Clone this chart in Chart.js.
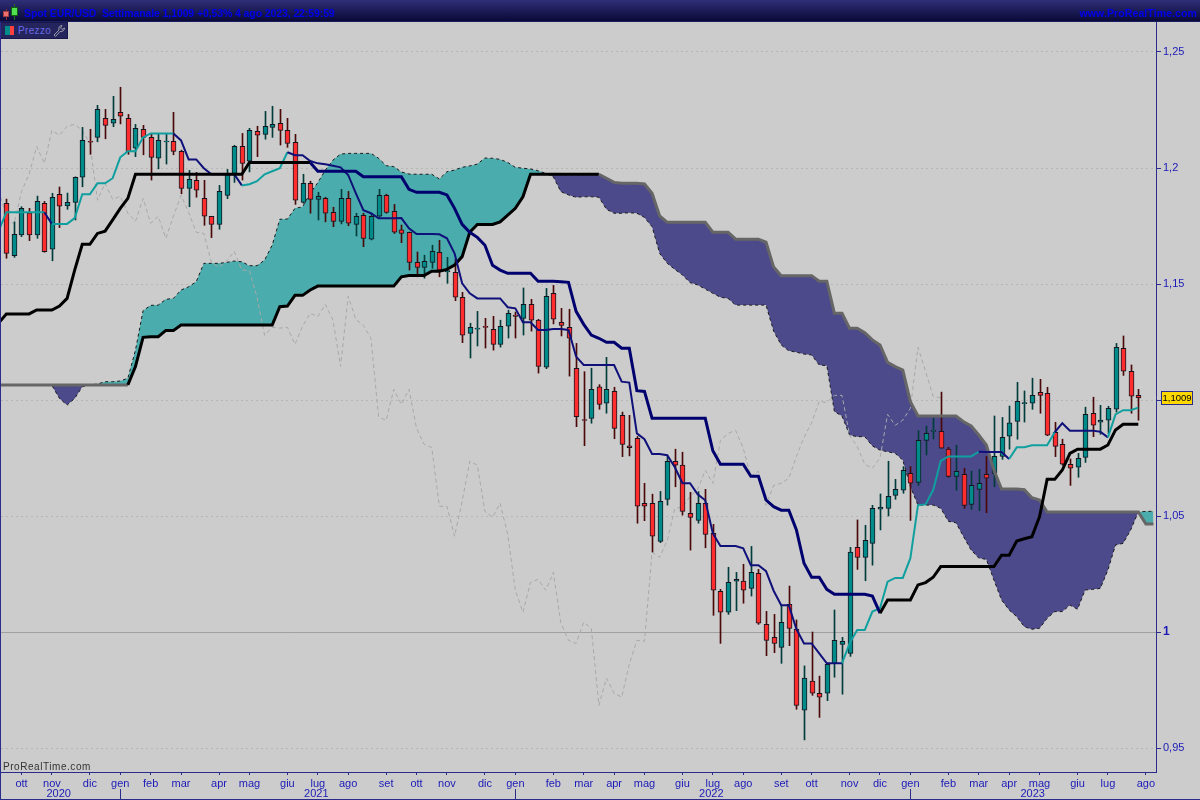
<!DOCTYPE html>
<html lang="it">
<head>
<meta charset="utf-8">
<title>Spot EUR/USD Settimanale</title>
<script src="https://cdn.jsdelivr.net/npm/chart.js@4"></script>
<style>
  html, body { margin: 0; padding: 0; background: #cccccc; overflow: hidden; }
  #wrap { position: relative; width: 1200px; height: 800px; font-family: "Liberation Sans", Arial, sans-serif; }
  canvas { position: absolute; left: 0; top: 0; }
  #header { position: absolute; left: 0; top: 0; width: 1200px; height: 21px; border-bottom: 1px solid #1c1c60;
    background: linear-gradient(#2f2f78, #090938); color: #0000ee; font-weight: bold; font-size: 10.5px; line-height: 26px; }
  #title { position: absolute; left: 24px; top: 0; white-space: pre; letter-spacing: -0.1px; }
  #site { position: absolute; right: 3px; top: 0; letter-spacing: 0.1px; }
  #logo { position: absolute; left: 0; top: 0; }
  #tag { position: absolute; left: 0; top: 22px; width: 67px; height: 15px; background: #25255e; border: 1px solid #17174e; border-left: 0;
    color: #6868e8; font-size: 10px; line-height: 16px; }
  #tag span { position: absolute; left: 18px; letter-spacing: 0.35px; }
  #tag i { position: absolute; top: 3px; height: 9px; }
  #tag svg { position: absolute; left: 52px; top: 1px; }
  #mark { position: absolute; left: 3px; top: 761px; font-size: 10px; letter-spacing: 0.55px; color: #333333; }
  #frameL { position: absolute; left: 0; top: 22px; width: 1px; height: 778px; background: #2b2b8c; }
  #frameB { position: absolute; left: 0; top: 799px; width: 1200px; height: 1px; background: #2b2b8c; }
</style>
</head>
<body>
<div id="wrap">
  <canvas id="chart" width="1200" height="800"></canvas>
  <div id="header">
    <svg id="logo" width="20" height="21" viewBox="0 0 20 21">
      <rect x="6" y="9" width="1" height="11" fill="#8a3030"/><rect x="3.5" y="11.5" width="5" height="5" fill="#f07070" stroke="#a04040"/>
      <rect x="14" y="4" width="1" height="16" fill="#207020"/><rect x="11.5" y="7.5" width="6" height="8" fill="#50e050" stroke="#106010"/>
    </svg>
    <div id="title">Spot EUR/USD  Settimanale 1,1009 +0,53% 4 ago 2023, 22:59:59</div>
    <div id="site">www.ProRealTime.com</div>
  </div>
  <div id="tag">
    <i style="left:5px;width:5px;background:#008b8b"></i><i style="left:10px;width:4px;background:#ff4040"></i>
    <span>Prezzo</span>
    <svg width="14" height="13" viewBox="0 0 14 13"><path d="M2 11 L7 6 Q6 2 10 1.5 L8.5 4 L10 5.5 L12.5 4 Q12 8 8 7.5 L3.5 12.5 Z" fill="none" stroke="#9a9aa8" stroke-width="1"/></svg>
  </div>
  <div id="mark">ProRealTime.com</div>
  <div id="frameL"></div>
  <div id="frameB"></div>
</div>
<script>
// --- Data ---
// weekly candles, week 0 to week 149
const opens = [
  1.1848,1.1622,1.1712,1.1807,1.1712,1.1848,1.1650,1.1887,1.1837,1.1852,
  1.1960,1.2115,1.2132,1.2214,1.2193,1.2240,1.2214,1.2085,1.2167,1.2132,
  1.2042,1.2112,1.2115,1.2072,1.1912,1.1947,1.1869,1.1792,1.1757,1.1882,
  1.1977,1.2093,1.2029,1.2158,1.2145,1.2175,1.2193,1.2162,1.2111,1.1852,
  1.1934,1.1865,1.1869,1.1809,1.1770,1.1869,1.1757,1.1796,1.1693,1.1792,
  1.1882,1.1813,1.1733,1.1723,1.1593,1.1572,1.1593,1.1637,1.1552,1.1550,
  1.1443,1.1287,1.1305,1.1318,1.1305,1.1240,1.1318,1.1366,1.1352,1.1412,
  1.1344,1.1141,1.1460,1.1335,1.1313,1.1137,1.0916,1.0921,1.1057,1.0986,
  1.1037,1.0934,1.0802,1.0835,1.0555,1.0555,1.0391,1.0572,1.0736,1.0719,
  1.0512,1.0481,1.0555,1.0425,1.0175,1.0085,1.0219,1.0219,1.0188,1.0253,
  1.0033,0.9977,0.9934,1.0119,1.0013,0.9663,0.9788,0.9736,0.9736,0.9865,
  0.9947,0.9908,1.0365,1.0322,1.0382,1.0529,1.0533,1.0589,1.0611,1.0684,
  1.0645,1.0826,1.0865,1.0865,1.0788,1.0671,1.0680,1.0550,1.0615,1.0680,
  1.0684,1.0757,1.0844,1.0908,1.0984,1.0986,1.1033,1.1029,1.0861,1.0809,
  1.0723,1.0710,1.0753,1.0943,1.0904,1.0913,1.0960,1.1223,1.1124,1.1020
];
const highs = [
  1.1866,1.1768,1.1833,1.1826,1.1879,1.1856,1.1891,1.1918,1.1892,1.1962,
  1.2175,1.2167,1.2270,1.2253,1.2309,1.2348,1.2231,1.2188,1.2184,1.2149,
  1.2149,1.2149,1.2240,1.2077,1.1990,1.1981,1.1947,1.1792,1.1925,1.1994,
  1.2098,1.2149,1.2171,1.2180,1.2244,1.2266,1.2253,1.2214,1.2145,1.1973,
  1.1943,1.1895,1.1874,1.1831,1.1908,1.1899,1.1805,1.1805,1.1805,1.1908,
  1.1887,1.1843,1.1754,1.1724,1.1638,1.1624,1.1667,1.1688,1.1615,1.1606,
  1.1464,1.1331,1.1382,1.1352,1.1361,1.1344,1.1387,1.1379,1.1483,1.1434,
  1.1348,1.1481,1.1494,1.1395,1.1391,1.1244,1.1122,1.1137,1.1066,1.1184,
  1.1055,1.0948,1.0934,1.0843,1.0641,1.0594,1.0606,1.0759,1.0788,1.0775,
  1.0602,1.0605,1.0615,1.0464,1.0184,1.0279,1.0257,1.0292,1.0369,1.0270,
  1.0089,1.0076,1.0116,1.0198,1.0052,0.9854,1.0000,0.9810,0.9865,1.0095,
  0.9977,1.0365,1.0483,1.0460,1.0546,1.0595,1.0736,1.0658,1.0713,1.0713,
  1.0868,1.0888,1.0921,1.1034,1.0796,1.0805,1.0706,1.0694,1.0701,1.0757,
  1.0931,1.0925,1.0974,1.1076,1.1039,1.1094,1.1089,1.1055,1.0904,1.0831,
  1.0746,1.0770,1.0969,1.1012,1.0977,1.0973,1.1244,1.1276,1.1151,1.1046
];
const lows = [
  1.1611,1.1615,1.1704,1.1687,1.1697,1.1637,1.1600,1.1743,1.1822,1.1776,
  1.1919,1.2059,1.2113,1.2126,1.2178,1.2190,1.2059,1.2049,1.2057,1.1948,
  1.1996,1.2017,1.2057,1.1889,1.1833,1.1874,1.1753,1.1700,1.1736,1.1868,
  1.1938,1.1948,1.1983,1.2049,1.2124,1.2132,1.2099,1.2089,1.1843,1.1848,
  1.1805,1.1776,1.1768,1.1747,1.1759,1.1751,1.1707,1.1661,1.1690,1.1787,
  1.1805,1.1718,1.1678,1.1560,1.1531,1.1525,1.1568,1.1531,1.1503,1.1428,
  1.1247,1.1181,1.1233,1.1224,1.1215,1.1228,1.1267,1.1267,1.1280,1.1297,
  1.1116,1.1135,1.1328,1.1276,1.1103,1.0885,1.0803,1.0900,1.0960,1.0943,
  1.0833,1.0756,1.0759,1.0469,1.0480,1.0345,1.0385,1.0547,1.0626,1.0504,
  1.0353,1.0469,1.0363,1.0072,0.9951,1.0076,1.0092,1.0124,1.0155,1.0033,
  0.9898,0.9911,0.9865,0.9941,0.9667,0.9535,0.9727,0.9632,0.9704,0.9805,
  0.9732,0.9895,1.0270,1.0221,1.0288,1.0440,1.0500,1.0572,1.0598,1.0481,
  1.0632,1.0763,1.0832,1.0792,1.0667,1.0611,1.0533,1.0529,1.0523,1.0514,
  1.0626,1.0744,1.0788,1.0831,1.0905,1.0960,1.0943,1.0846,1.0756,1.0719,
  1.0632,1.0667,1.0731,1.0842,1.0852,1.0856,1.0948,1.1106,1.0943,1.0913
];
const closes = [
  1.1632,1.1714,1.1826,1.1712,1.1856,1.1639,1.1874,1.1835,1.1852,1.1960,
  1.2119,1.2111,1.2253,1.2184,1.2210,1.2223,1.2070,1.2171,1.2132,1.2046,
  1.2119,1.2116,1.2072,1.1912,1.1951,1.1904,1.1792,1.1757,1.1899,1.1973,
  1.2093,1.2020,1.2162,1.2141,1.2180,1.2188,1.2162,1.2106,1.1861,1.1934,
  1.1865,1.1878,1.1805,1.1770,1.1869,1.1762,1.1792,1.1697,1.1792,1.1882,
  1.1809,1.1723,1.1718,1.1593,1.1572,1.1598,1.1641,1.1560,1.1558,1.1443,
  1.1279,1.1313,1.1310,1.1313,1.1240,1.1318,1.1374,1.1360,1.1412,1.1344,
  1.1145,1.1447,1.1348,1.1322,1.1266,1.0928,1.0912,1.1046,1.0981,1.1046,
  1.0878,1.0809,1.0795,1.0542,1.0542,1.0413,1.0563,1.0736,1.0719,1.0520,
  1.0494,1.0555,1.0421,1.0180,1.0085,1.0214,1.0227,1.0180,1.0257,1.0038,
  0.9964,0.9951,1.0042,1.0016,0.9684,0.9801,0.9736,0.9719,0.9861,0.9964,
  0.9960,1.0344,1.0322,1.0395,1.0533,1.0538,1.0585,1.0615,1.0697,1.0641,
  1.0826,1.0856,1.0869,1.0792,1.0671,1.0693,1.0546,1.0632,1.0641,1.0663,
  1.0757,1.0839,1.0902,1.0994,1.0989,1.1020,1.1020,1.0848,1.0800,1.0723,
  1.0706,1.0749,1.0938,1.0891,1.0913,1.0964,1.1227,1.1124,1.1016,1.1009
];

// ichimoku lines, first entry is week -1 (runs off the left edge)
const kijun = [
  1.1332,1.1371,1.1371,1.1371,1.1371,1.1388,1.1388,1.1388,1.1405,1.1438,
  1.1560,1.1671,1.1671,1.1718,1.1728,1.1776,1.1826,1.1869,1.1973,1.1973,
  1.1973,1.1973,1.1973,1.1973,1.1973,1.1973,1.1973,1.1973,1.1973,1.1973,
  1.1973,1.1973,1.1973,1.2024,1.2024,1.2024,1.2024,1.2024,1.2024,1.2024,
  1.2024,1.2024,1.1986,1.1986,1.1986,1.1986,1.1986,1.1986,1.1962,1.1962,
  1.1962,1.1962,1.1962,1.1962,1.1908,1.1895,1.1895,1.1895,1.1895,1.1884,
  1.1826,1.1757,1.1723,1.1701,1.1667,1.1581,1.1560,1.1546,1.1546,1.1546,
  1.1546,1.1512,1.1512,1.1512,1.1510,1.1507,1.1382,1.1326,1.1280,1.1266,
  1.1249,1.1249,1.1223,1.1223,1.1040,1.1037,1.0921,1.0921,1.0921,1.0921,
  1.0921,1.0921,1.0921,1.0921,1.0781,1.0723,1.0723,1.0723,1.0723,1.0671,
  1.0671,1.0569,1.0540,1.0525,1.0525,1.0440,1.0296,1.0236,1.0236,1.0184,
  1.0163,1.0163,1.0163,1.0163,1.0163,1.0155,1.0081,1.0138,1.0138,1.0138,
  1.0138,1.0203,1.0213,1.0236,1.0282,1.0282,1.0282,1.0282,1.0282,1.0282,
  1.0282,1.0282,1.0331,1.0331,1.0392,1.0402,1.0411,1.0497,1.0658,1.0658,
  1.0698,1.0770,1.0788,1.0788,1.0788,1.0788,1.0806,1.0871,1.0895,1.0895,1.0895
];
const tenkan = [
  1.1730,1.1809,1.1809,1.1809,1.1809,1.1809,1.1809,1.1759,1.1759,1.1759,
  1.1784,1.1887,1.1887,1.1934,1.1934,1.1956,1.2046,1.2072,1.2072,1.2132,
  1.2149,1.2149,1.2149,1.2149,1.2119,1.2037,1.2037,1.1999,1.1973,1.1973,
  1.1973,1.1973,1.1925,1.1930,1.1943,1.1973,1.1986,1.1999,1.2068,1.2055,
  1.2055,1.2030,1.2020,1.2016,1.2010,1.2003,1.1970,1.1892,1.1818,1.1805,
  1.1783,1.1783,1.1783,1.1784,1.1740,1.1715,1.1715,1.1715,1.1714,1.1697,
  1.1632,1.1503,1.1460,1.1438,1.1438,1.1438,1.1438,1.1400,1.1395,1.1335,
  1.1335,1.1302,1.1302,1.1306,1.1306,1.1302,1.1187,1.1151,1.1151,1.1151,
  1.1151,1.1151,1.1079,1.1075,1.0856,1.0831,1.0767,1.0767,1.0762,1.0710,
  1.0641,1.0641,1.0594,1.0568,1.0425,1.0371,1.0371,1.0371,1.0361,1.0288,
  1.0288,1.0262,1.0178,1.0115,1.0115,1.0012,0.9951,0.9951,0.9908,0.9865,
  0.9865,0.9865,0.9951,1.0009,1.0009,1.0088,1.0102,1.0217,1.0233,1.0233,
  1.0318,1.0547,1.0550,1.0612,1.0738,1.0757,1.0757,1.0757,1.0757,1.0777,
  1.0776,1.0776,1.0776,1.0746,1.0796,1.0796,1.0805,1.0805,1.0805,1.0861,
  1.0900,1.0868,1.0868,1.0868,1.0868,1.0863,1.0839,1.0938,1.0956,1.0956,1.0967
];
// chikou: plotted back by 26 weeks, first entry is week -1
const chikou = [
  1.1904,1.1792,1.1757,1.1899,1.1973,1.2093,1.2020,1.2162,1.2141,1.2180,
  1.2188,1.2162,1.2106,1.1861,1.1934,1.1865,1.1878,1.1805,1.1770,1.1869,
  1.1762,1.1792,1.1697,1.1792,1.1882,1.1809,1.1723,1.1718,1.1593,1.1572,
  1.1598,1.1641,1.1560,1.1558,1.1443,1.1279,1.1313,1.1310,1.1313,1.1240,
  1.1318,1.1374,1.1360,1.1412,1.1344,1.1145,1.1447,1.1348,1.1322,1.1266,
  1.0928,1.0912,1.1046,1.0981,1.1046,1.0878,1.0809,1.0795,1.0542,1.0542,
  1.0413,1.0563,1.0736,1.0719,1.0520,1.0494,1.0555,1.0421,1.0180,1.0085,
  1.0214,1.0227,1.0180,1.0257,1.0038,0.9964,0.9951,1.0042,1.0016,0.9684,
  0.9801,0.9736,0.9719,0.9861,0.9964,0.9960,1.0344,1.0322,1.0395,1.0533,
  1.0538,1.0585,1.0615,1.0697,1.0641,1.0826,1.0856,1.0869,1.0792,1.0671,
  1.0693,1.0546,1.0632,1.0641,1.0663,1.0757,1.0839,1.0902,1.0994,1.0989,
  1.1020,1.1020,1.0848,1.0800,1.0723,1.0706,1.0749,1.0938,1.0891,1.0913,
  1.0964,1.1227,1.1124,1.1016,1.1009
];
// cloud edges, week -1 to week 151
const senkouA = [
  1.1065,1.1065,1.1065,1.1065,1.1065,1.1065,1.1065,1.1063,1.1007,1.0978,
  1.1007,1.1057,1.1065,1.1069,1.1079,1.1079,1.1082,1.1094,1.1215,1.1385,
  1.1408,1.1409,1.1434,1.1438,1.1474,1.1488,1.1510,1.1589,1.1589,1.1589,
  1.1593,1.1599,1.1596,1.1579,1.1579,1.1603,1.1668,1.1779,1.1780,1.1826,
  1.1833,1.1891,1.1937,1.1991,1.2034,1.2060,1.2063,1.2063,1.2063,1.2063,
  1.2042,1.2010,1.2006,1.1983,1.1974,1.1973,1.1973,1.1973,1.1953,1.1984,
  1.1991,1.2003,1.2009,1.2017,1.2043,1.2042,1.2037,1.2024,1.2003,1.1999,
  1.1996,1.1988,1.1977,1.1962,1.1898,1.1884,1.1874,1.1876,1.1876,1.1874,
  1.1822,1.1805,1.1805,1.1807,1.1805,1.1787,1.1747,1.1632,1.1589,1.1563,
  1.1539,1.1506,1.1496,1.1478,1.1460,1.1443,1.1438,1.1409,1.1409,1.1409,
  1.1409,1.1409,1.1297,1.1237,1.1212,1.1206,1.1198,1.1194,1.1151,1.1148,
  1.0950,1.0931,1.0849,1.0842,1.0842,1.0802,1.0784,1.0777,1.0770,1.0741,
  1.0626,1.0547,1.0547,1.0547,1.0533,1.0477,1.0471,1.0411,1.0353,1.0319,
  1.0313,1.0224,1.0138,1.0095,1.0066,1.0023,1.0012,1.0016,1.0059,1.0088,
  1.0088,1.0116,1.0098,1.0181,1.0184,1.0188,1.0267,1.0375,1.0382,1.0440,
  1.0517,1.0520,1.0520
];
const senkouB = [
  1.1065,1.1065,1.1065,1.1065,1.1065,1.1065,1.1065,1.1065,1.1065,1.1065,
  1.1065,1.1065,1.1065,1.1065,1.1065,1.1065,1.1065,1.1065,1.1144,1.1270,
  1.1273,1.1273,1.1300,1.1300,1.1323,1.1323,1.1323,1.1323,1.1323,1.1323,
  1.1323,1.1323,1.1323,1.1323,1.1323,1.1323,1.1323,1.1402,1.1405,1.1451,
  1.1451,1.1474,1.1491,1.1491,1.1491,1.1491,1.1491,1.1491,1.1491,1.1491,
  1.1491,1.1491,1.1491,1.1531,1.1537,1.1537,1.1537,1.1555,1.1555,1.1563,
  1.1582,1.1618,1.1723,1.1757,1.1757,1.1757,1.1768,1.1797,1.1826,1.1876,
  1.1973,1.1973,1.1973,1.1973,1.1973,1.1973,1.1973,1.1973,1.1973,1.1973,
  1.1956,1.1938,1.1934,1.1934,1.1934,1.1931,1.1891,1.1793,1.1766,1.1766,
  1.1766,1.1766,1.1766,1.1766,1.1723,1.1723,1.1723,1.1693,1.1693,1.1693,
  1.1693,1.1680,1.1573,1.1536,1.1536,1.1536,1.1536,1.1536,1.1512,1.1512,
  1.1374,1.1374,1.1309,1.1309,1.1290,1.1259,1.1237,1.1162,1.1144,1.1129,
  1.0993,1.0931,1.0931,1.0931,1.0931,1.0931,1.0931,1.0906,1.0888,1.0849,
  1.0806,1.0698,1.0616,1.0616,1.0616,1.0613,1.0579,1.0569,1.0517,1.0517,
  1.0517,1.0517,1.0517,1.0517,1.0517,1.0517,1.0517,1.0517,1.0517,1.0517,
  1.0517,1.0466,1.0466
];

// axis ticks: week number of each month start and of each year label
const monthWeeks = [2,6,11,15,19,23,28,32,37,41,45,50,54,58,63,67,72,76,80,84,89,93,97,102,106,111,115,119,124,128,132,136,141,145,150];
const monthLabels = ['ott','nov','dic','gen','feb','mar','apr','mag','giu','lug','ago','set','ott','nov','dic','gen','feb','mar','apr','mag','giu','lug','ago','set','ott','nov','dic','gen','feb','mar','apr','mag','giu','lug','ago'];
const yearWeeks = [6.9,40.8,92.8,135.1];
const yearLabels = ['2020','2021','2022','2023'];
const yearStarts = [15,67,119];
const priceTicks = [0.95,1,1.05,1.1,1.15,1.2,1.25];
const lastPrice = 1.1009;

// --- Colours ---
const TEAL = '#008b8b';
const RED = '#ff2d2d';
const NAVY = '#00006e';
const THIN_NAVY = '#10107a';
const CYAN = '#0f9f9f';
const AXIS = '#2b2b8c';
const TICK_TEXT = '#1a1ab8';
const FONT = '"Liberation Sans", Arial, sans-serif';

// --- Helpers ---
function onWeeks(values) {
  return values.map((v, i) => ({ x: i - 1, y: v }));
}
function inRanges(x, ranges) {
  return ranges.some(r => x >= r[0] && x < r[1]);
}
function isUp(i) {
  return closes[i] >= opens[i];
}

// navy parts of the tenkan line
const tenkanNavy = [[5,6],[22,31],[37,110],[128,132],[138,145]];

// --- Plugin: snap candles to whole pixels, draw year marks and the price box ---
const chartExtras = {
  id: 'chartExtras',
  afterDatasetsUpdate(chart) {
    chart.data.datasets.forEach((ds, idx) => {
      if (ds.type !== 'bar') return;
      chart.getDatasetMeta(idx).data.forEach(el => { el.x = Math.round(el.x) + 0.5; });
    });
  },
  afterDraw(chart) {
    const { ctx, scales } = chart;
    ctx.save();
    ctx.strokeStyle = AXIS;
    ctx.lineWidth = 1;
    yearStarts.forEach(w => {
      const x = Math.round(scales.x.getPixelForValue(w)) + 0.5;
      ctx.beginPath();
      ctx.moveTo(x, 789);
      ctx.lineTo(x, 799);
      ctx.stroke();
    });
    const y = Math.round(scales.y.getPixelForValue(lastPrice));
    ctx.fillStyle = '#ffd800';
    ctx.fillRect(1161.5, y - 6.5, 31, 13);
    ctx.strokeRect(1161.5, y - 6.5, 31, 13);
    ctx.fillStyle = '#000000';
    ctx.font = '9.5px ' + FONT;
    ctx.textAlign = 'center';
    ctx.textBaseline = 'middle';
    ctx.fillText('1,1009', 1177, y + 0.5);
    ctx.restore();
  }
};

// --- Chart ---
new Chart(document.getElementById('chart'), {
  data: {
    datasets: [
      {
        type: 'line', label: 'Senkou A', data: onWeeks(senkouA), order: 20,
        borderColor: '#1a1a1a', borderWidth: 1, borderDash: [3, 3], pointRadius: 0, tension: 0,
        fill: { target: 1, above: '#4aacac', below: '#4d4a8c' }
      },
      // plain copy of senkou B as the fill target, a split line leaves seams in the cloud
      {
        type: 'line', label: 'Cloud base', data: onWeeks(senkouB), order: 21,
        borderWidth: 0, pointRadius: 0, tension: 0, fill: false
      },
      {
        type: 'line', label: 'Senkou B', data: onWeeks(senkouB), order: 3,
        borderWidth: 3, pointRadius: 0, tension: 0, fill: false,
        segment: { borderColor: c => inRanges(c.p0.parsed.x, [[16, 78]]) ? '#000000' : '#666666' }
      },
      {
        type: 'line', label: 'Chikou', data: onWeeks(chikou), order: 15,
        borderColor: '#a8a8a8', borderWidth: 1, borderDash: [4, 3], pointRadius: 0, tension: 0, fill: false
      },
      {
        type: 'bar', label: 'Wick', order: 10, barThickness: 1, grouped: false,
        data: lows.map((v, i) => ({ x: i, y: [v, highs[i]] })),
        backgroundColor: c => isUp(c.dataIndex) ? '#003c3c' : '#4a0808'
      },
      {
        type: 'bar', label: 'Body', order: 9, barThickness: 5, grouped: false,
        data: opens.map((v, i) => ({ x: i, y: [v, closes[i]] })),
        backgroundColor: c => isUp(c.dataIndex) ? TEAL : RED,
        borderColor: '#151520', borderWidth: 1, borderSkipped: false
      },
      {
        type: 'line', label: 'Tenkan', data: onWeeks(tenkan), order: 2,
        borderWidth: 2, pointRadius: 0, tension: 0, fill: false,
        segment: { borderColor: c => inRanges(c.p0.parsed.x, tenkanNavy) ? THIN_NAVY : CYAN }
      },
      {
        type: 'line', label: 'Kijun', data: onWeeks(kijun), order: 1,
        borderWidth: 3, pointRadius: 0, tension: 0, fill: false,
        segment: { borderColor: c => inRanges(c.p0.parsed.x, [[40, 115]]) ? NAVY : '#000000' }
      }
    ]
  },
  options: {
    responsive: false,
    animation: false,
    events: [],
    layout: { padding: { left: 1, top: 22, right: 0, bottom: 0 } },
    plugins: { legend: { display: false }, tooltip: { enabled: false } },
    scales: {
      x: {
        type: 'linear', position: 'bottom', min: -0.698, max: 151.33, weight: 0, offset: false,
        afterBuildTicks: s => { s.ticks = monthWeeks.map(v => ({ value: v })); },
        afterFit: s => { s.height = 17; },
        border: { color: AXIS, width: 1 },
        grid: { offset: false, drawOnChartArea: false, tickLength: 3, tickColor: AXIS },
        ticks: {
          autoSkip: false, maxRotation: 0, padding: 2, color: TICK_TEXT,
          font: { family: FONT, size: 11 },
          callback: (v, i) => monthLabels[i]
        }
      },
      years: {
        type: 'linear', axis: 'x', position: 'bottom', min: -0.698, max: 151.33, weight: 1, offset: false,
        afterBuildTicks: s => { s.ticks = yearWeeks.map(v => ({ value: v })); },
        afterFit: s => { s.height = 11; },
        border: { display: false },
        grid: { display: false, drawTicks: false, offset: false },
        ticks: {
          autoSkip: false, maxRotation: 0, padding: -2, color: TICK_TEXT,
          font: { family: FONT, size: 11 },
          callback: (v, i) => yearLabels[i]
        }
      },
      y: {
        type: 'linear', position: 'right', min: 0.93966, max: 1.26293,
        afterBuildTicks: s => { s.ticks = priceTicks.map(v => ({ value: v })); },
        afterFit: s => { s.width = 44; },
        border: { color: AXIS, width: 1, dash: c => (c.tick && c.tick.value !== 1) ? [2, 3] : [] },
        grid: {
          color: c => c.tick.value === 1 ? '#a0a0a0' : '#b6b6b6',
          tickLength: 5, tickColor: AXIS
        },
        ticks: {
          autoSkip: false, padding: 2, color: TICK_TEXT,
          font: c => ({ family: FONT, size: c.tick && c.tick.value === 1 ? 12 : 11, weight: c.tick && c.tick.value === 1 ? 'bold' : 'normal' }),
          callback: v => v === 1.1 ? '' : String(v).replace('.', ',')
        }
      }
    }
  },
  plugins: [chartExtras]
});
</script>
</body>
</html>
